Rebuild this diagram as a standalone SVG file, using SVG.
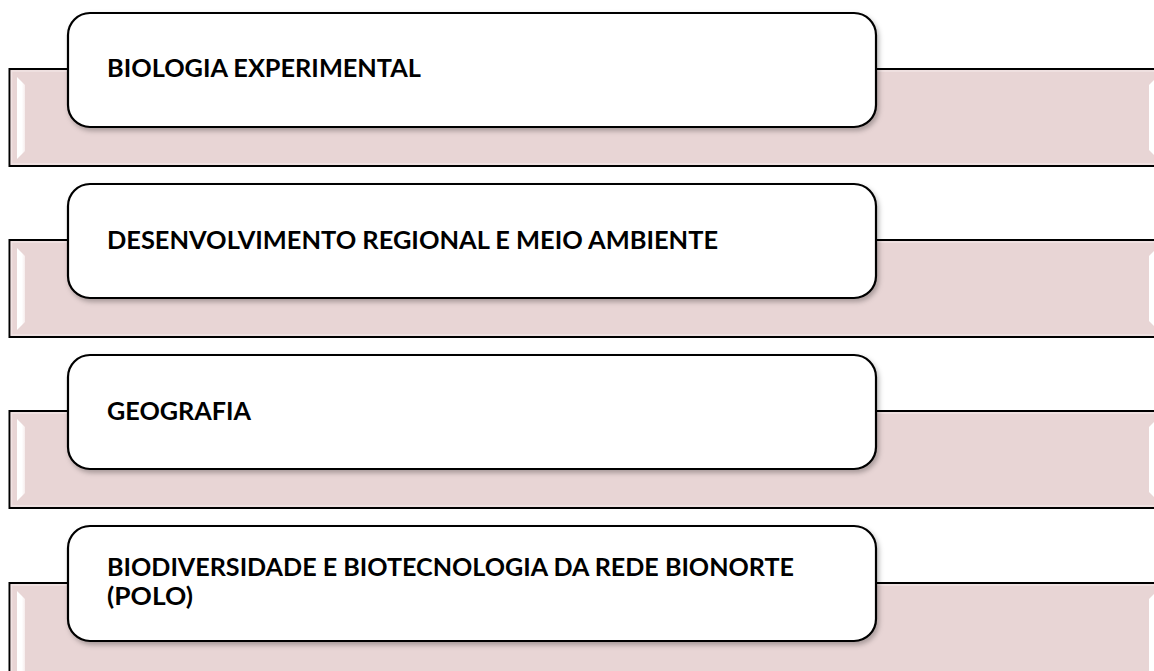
<svg xmlns="http://www.w3.org/2000/svg" width="1154" height="671" viewBox="0 0 1154 671">
  <style>
    .band { fill: #e8d5d5; stroke: #000; stroke-width: 2; }
    .bandin { fill: none; stroke: #f1e4e4; stroke-width: 1.5; }
    .bevel { fill: url(#bevelL); }
    .bevelR { fill: #ffffff; }
    .box { fill: #ffffff; stroke: #000; stroke-width: 2.2; filter: url(#shadow); }
    .lbl { font-family: Lato, "Liberation Sans", "DejaVu Sans", sans-serif; font-weight: 700; font-size: 25px; fill: #000; }
  </style>
  <defs>
    <linearGradient id="bevelL" x1="0" y1="0" x2="1" y2="0">
      <stop offset="0" stop-color="#ffffff"/>
      <stop offset="0.6" stop-color="#ffffff"/>
      <stop offset="1" stop-color="#f6eded"/>
    </linearGradient>
    <filter id="shadow" x="-5%" y="-10%" width="110%" height="125%">
      <feDropShadow dx="2" dy="3" stdDeviation="2.5" flood-color="#000" flood-opacity="0.28"/>
    </filter>
  </defs>

  <g id="node1">
    <rect class="band" x="9.5" y="69" width="1160" height="97"/>
    <rect class="bandin" x="11.5" y="71" width="1156" height="93"/>
    <polygon class="bevel" points="17,77 25,85 25,151 17,159"/>
    <polygon class="bevelR" points="1154,80 1149,85 1149,150 1154,155"/>
    <rect class="box" x="68" y="13" width="808" height="114" rx="22" ry="22"/>
    <text class="lbl" x="107" y="77" textLength="314" lengthAdjust="spacingAndGlyphs">BIOLOGIA EXPERIMENTAL</text>
  </g>

  <g id="node2">
    <rect class="band" x="9.5" y="240" width="1160" height="97"/>
    <rect class="bandin" x="11.5" y="242" width="1156" height="93"/>
    <polygon class="bevel" points="17,248 25,256 25,322 17,330"/>
    <polygon class="bevelR" points="1154,251 1149,256 1149,321 1154,326"/>
    <rect class="box" x="68" y="184" width="808" height="114" rx="22" ry="22"/>
    <text class="lbl" x="107" y="249" textLength="611" lengthAdjust="spacingAndGlyphs">DESENVOLVIMENTO REGIONAL E MEIO AMBIENTE</text>
  </g>

  <g id="node3">
    <rect class="band" x="9.5" y="411" width="1160" height="97"/>
    <rect class="bandin" x="11.5" y="413" width="1156" height="93"/>
    <polygon class="bevel" points="17,419 25,427 25,493 17,501"/>
    <polygon class="bevelR" points="1154,422 1149,427 1149,492 1154,497"/>
    <rect class="box" x="68" y="355" width="808" height="114" rx="22" ry="22"/>
    <text class="lbl" x="107" y="420" textLength="144" lengthAdjust="spacingAndGlyphs">GEOGRAFIA</text>
  </g>

  <g id="node4">
    <rect class="band" x="9.5" y="583" width="1160" height="120"/>
    <rect class="bandin" x="11.5" y="585" width="1156" height="116"/>
    <polygon class="bevel" points="17,591 25,599 25,700 17,708"/>
    <polygon class="bevelR" points="1154,594 1149,599 1149,700 1154,705"/>
    <rect class="box" x="68" y="526" width="808" height="115" rx="22" ry="22"/>
    <text class="lbl" x="107" y="576" textLength="687" lengthAdjust="spacingAndGlyphs">BIODIVERSIDADE E BIOTECNOLOGIA DA REDE BIONORTE</text>
    <text class="lbl" x="107" y="605" textLength="86" lengthAdjust="spacingAndGlyphs">(POLO)</text>
  </g>
</svg>
